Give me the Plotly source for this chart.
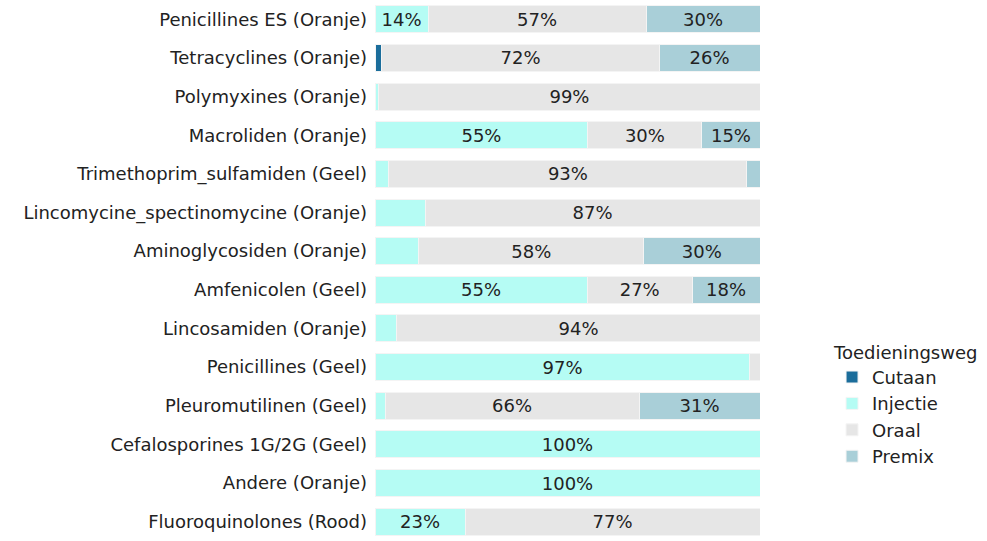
import plotly.graph_objects as go

categories = [
    "Penicillines ES (Oranje)",
    "Tetracyclines (Oranje)",
    "Polymyxines (Oranje)",
    "Macroliden (Oranje)",
    "Trimethoprim_sulfamiden (Geel)",
    "Lincomycine_spectinomycine (Oranje)",
    "Aminoglycosiden (Oranje)",
    "Amfenicolen (Geel)",
    "Lincosamiden (Oranje)",
    "Penicillines (Geel)",
    "Pleuromutilinen (Geel)",
    "Cefalosporines 1G/2G (Geel)",
    "Andere (Oranje)",
    "Fluoroquinolones (Rood)",
]

cutaan   = [0,    1.8, 0,    0,    0,    0,    0,    0,    0,    0,    0,    0,   0,   0]
injectie = [13.8, 0,   1.0,  55.3, 3.6,  13.0, 11.4, 55.1, 5.7,  97.4, 2.6,  100, 100, 23.4]
oraal    = [56.6, 72.0, 99.0, 29.6, 93.0, 87.0, 58.4, 27.3, 94.3, 2.6,  66.0, 0,   0,   76.6]
premix   = [29.6, 26.2, 0,    15.1, 3.4,  0,    30.2, 17.6, 0,    0,    31.4, 0,   0,   0]

series = [
    ("Cutaan", cutaan, "#1b6d9b"),
    ("Injectie", injectie, "#b5fcf4"),
    ("Oraal", oraal, "#e6e6e6"),
    ("Premix", premix, "#a9cfd8"),
]

FONT = "DejaVu Sans"

fig = go.Figure()
for name, vals, color in series:
    fig.add_trace(go.Bar(
        name=name,
        y=categories,
        x=vals,
        orientation="h",
        marker=dict(color=color, line=dict(color="#f4f4f4", width=1)),
        text=[f"{v:.0f}%" if v >= 13.5 else "" for v in vals],
        textposition="inside",
        insidetextanchor="middle",
        textfont=dict(family=FONT, size=18, color="#222222"),
        hoverinfo="skip",
    ))

fig.update_layout(
    barmode="stack",
    bargap=0.3,
    width=987,
    height=541,
    margin=dict(l=375, r=227, t=0, b=0),
    paper_bgcolor="white",
    plot_bgcolor="white",
    font=dict(family=FONT, color="#222222"),
    xaxis=dict(range=[0, 100], visible=False, showgrid=False, zeroline=False),
    yaxis=dict(
        autorange="reversed",
        showgrid=False,
        zeroline=False,
        showline=False,
        ticks="",
        ticklabelstandoff=7,
        automargin=False,
        tickfont=dict(family=FONT, size=18, color="#222222"),
    ),
    legend=dict(
        title=dict(text="Toedieningsweg", font=dict(family=FONT, size=18, color="#222222")),
        font=dict(family=FONT, size=18, color="#222222"),
        traceorder="normal",
        xref="container",
        yref="container",
        x=0.843,
        y=0.38,
        xanchor="left",
        yanchor="top",
        itemwidth=30,
        tracegroupgap=0,
    ),
)

fig.write_html(
    "out.html",
    config={"displayModeBar": False},
    post_script="document.body.style.margin='0';",
)
